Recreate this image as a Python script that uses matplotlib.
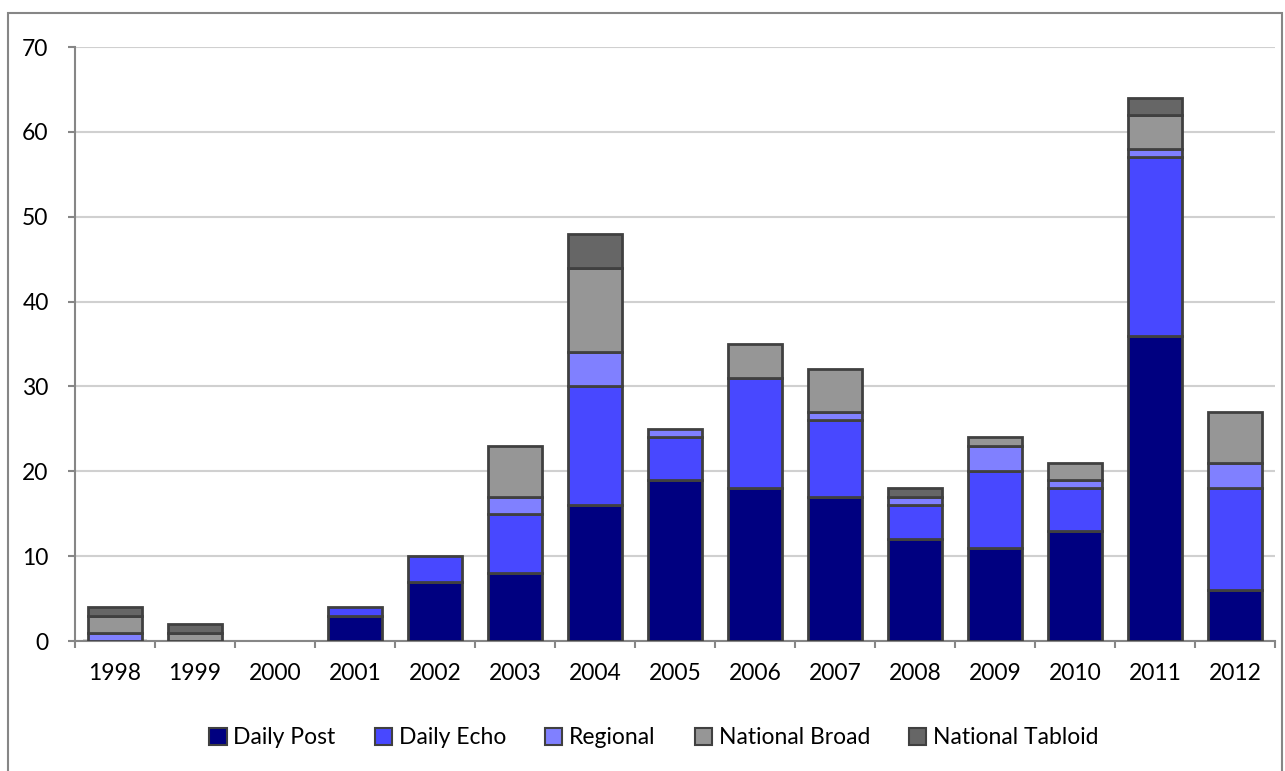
import matplotlib
matplotlib.use("Agg")
import matplotlib.pyplot as plt
import numpy as np
from matplotlib.patches import Rectangle

plt.rcParams['font.family'] = ['Lato', 'DejaVu Sans']

years = ['1998', '1999', '2000', '2001', '2002', '2003', '2004', '2005',
         '2006', '2007', '2008', '2009', '2010', '2011', '2012']
daily_post = [0, 0, 0, 3, 7, 8, 16, 19, 18, 17, 12, 11, 13, 36, 6]
daily_echo = [0, 0, 0, 1, 3, 7, 14, 5, 13, 9, 4, 9, 5, 21, 12]
regional = [1, 0, 0, 0, 0, 2, 4, 1, 0, 1, 1, 3, 1, 1, 3]
national_broad = [2, 1, 0, 0, 0, 6, 10, 0, 4, 5, 0, 1, 2, 4, 6]
national_tabloid = [1, 1, 0, 0, 0, 0, 4, 0, 0, 0, 1, 0, 0, 2, 0]

series = [
    ('Daily Post', daily_post, '#000080'),
    ('Daily Echo', daily_echo, '#4848FF'),
    ('Regional', regional, '#8080FF'),
    ('National Broad', national_broad, '#969696'),
    ('National Tabloid', national_tabloid, '#666666'),
]

fig = plt.figure(figsize=(12.85, 7.71), dpi=100)
ax = fig.add_axes([75 / 1285, 1 - 641 / 771, 1200 / 1285, 594 / 771])

x = np.arange(len(years))
bottom = np.zeros(len(years))
for name, vals, col in series:
    vals = np.array(vals, dtype=float)
    lw = np.where(vals > 0, 2.0, 0.0)
    ax.bar(x, vals, width=0.68, bottom=bottom, color=col, edgecolor='#404040',
           linewidth=lw, zorder=3)
    ax.bar([0], [0], color=col, edgecolor='#404040', linewidth=1.5, label=name)
    bottom += vals

ax.set_xlim(-0.5, len(years) - 0.5)
ax.set_ylim(0, 70)
ax.set_yticks(range(0, 71, 10))
ax.yaxis.grid(True, color='#D0D0D0', linewidth=1.5, zorder=0)
ax.set_xticks(np.arange(-0.5, len(years), 1))
ax.set_xticklabels([])
ax.set_xticks(x, minor=True)
ax.set_xticklabels(years, minor=True)
ax.tick_params(axis='x', which='minor', length=0, labelsize=16.5, pad=16)
ax.tick_params(axis='x', which='major', length=5, color='#868686', width=1.5)
ax.tick_params(axis='y', length=5, color='#868686', width=1.5, labelsize=16.5, pad=14)

for s in ['top', 'right']:
    ax.spines[s].set_visible(False)
for s in ['left', 'bottom']:
    ax.spines[s].set_color('#868686')
    ax.spines[s].set_linewidth(1.5)

fig.legend(loc='center', bbox_to_anchor=(654 / 1285, 1 - 738 / 771), ncol=5,
           frameon=False, fontsize=16.5, handlelength=0.75, handleheight=0.75,
           handletextpad=0.3, columnspacing=1.7)

# outer chart border (open at the bottom)
fig.patches.append(Rectangle((8 / 1285, -0.05), 1274 / 1285, 1.05 - 13 / 771,
                             transform=fig.transFigure, fill=False,
                             edgecolor='#868686', linewidth=1.5))

fig.savefig('out.png', dpi=100)
